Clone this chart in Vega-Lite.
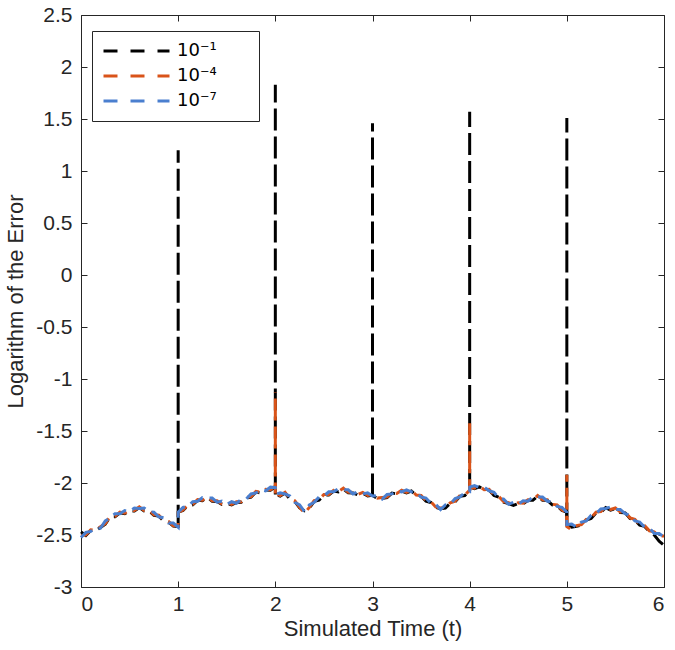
{
"$schema": "https://vega.github.io/schema/vega-lite/v6.json",
"width": 583, "height": 572,
"autosize": {"type": "none"},
"padding": {"left": 81, "top": 15, "right": 11, "bottom": 63},
"background": "white",
"config": {
  "font": "Liberation Sans",
  "view": {"stroke": "#262626", "strokeWidth": 1},
  "axis": {"grid": false, "domain": false, "tickSize": -6, "tickColor": "#262626", "labelFontSize": 21, "labelColor": "#262626", "titleFontSize": 22, "titleFontWeight": "normal", "titleColor": "#262626", "labelFont": "Liberation Sans", "titleFont": "Liberation Sans"},
  "axisX": {"labelPadding": 12},
  "axisY": {"labelPadding": 15}
},
"datasets": {
"k": [{"t":0,"v":-2.47},{"t":0.05,"v":-2.505},{"t":0.1,"v":-2.457},{"t":0.15,"v":-2.46},{"t":0.2,"v":-2.427},{"t":0.25,"v":-2.395},{"t":0.3,"v":-2.327},{"t":0.35,"v":-2.325},{"t":0.4,"v":-2.287},{"t":0.45,"v":-2.295},{"t":0.5,"v":-2.267},{"t":0.55,"v":-2.27},{"t":0.6,"v":-2.237},{"t":0.65,"v":-2.27},{"t":0.7,"v":-2.267},{"t":0.75,"v":-2.31},{"t":0.8,"v":-2.317},{"t":0.85,"v":-2.365},{"t":0.9,"v":-2.377},{"t":0.95,"v":-2.415},{"t":0.999,"v":-2.42},{"t":1.001,"v":-2.28},{"t":1.05,"v":-2.265},{"t":1.1,"v":-2.217},{"t":1.15,"v":-2.21},{"t":1.2,"v":-2.167},{"t":1.25,"v":-2.17},{"t":1.3,"v":-2.137},{"t":1.35,"v":-2.175},{"t":1.4,"v":-2.177},{"t":1.45,"v":-2.205},{"t":1.5,"v":-2.197},{"t":1.55,"v":-2.21},{"t":1.6,"v":-2.187},{"t":1.65,"v":-2.185},{"t":1.7,"v":-2.147},{"t":1.75,"v":-2.135},{"t":1.8,"v":-2.087},{"t":1.85,"v":-2.095},{"t":1.9,"v":-2.067},{"t":1.95,"v":-2.07},{"t":1.999,"v":-2.037},{"t":2.001,"v":-2.11},{"t":2.05,"v":-2.125},{"t":2.1,"v":-2.097},{"t":2.15,"v":-2.155},{"t":2.2,"v":-2.177},{"t":2.25,"v":-2.24},{"t":2.3,"v":-2.267},{"t":2.35,"v":-2.24},{"t":2.4,"v":-2.177},{"t":2.45,"v":-2.165},{"t":2.5,"v":-2.117},{"t":2.55,"v":-2.115},{"t":2.6,"v":-2.077},{"t":2.65,"v":-2.085},{"t":2.7,"v":-2.057},{"t":2.75,"v":-2.095},{"t":2.8,"v":-2.097},{"t":2.85,"v":-2.115},{"t":2.9,"v":-2.097},{"t":2.95,"v":-2.125},{"t":2.999,"v":-2.117},{"t":3.001,"v":-2.12},{"t":3.05,"v":-2.15},{"t":3.1,"v":-2.147},{"t":3.15,"v":-2.14},{"t":3.2,"v":-2.097},{"t":3.25,"v":-2.105},{"t":3.3,"v":-2.077},{"t":3.35,"v":-2.095},{"t":3.4,"v":-2.077},{"t":3.45,"v":-2.12},{"t":3.5,"v":-2.127},{"t":3.55,"v":-2.175},{"t":3.6,"v":-2.187},{"t":3.65,"v":-2.235},{"t":3.7,"v":-2.247},{"t":3.75,"v":-2.24},{"t":3.8,"v":-2.197},{"t":3.85,"v":-2.18},{"t":3.9,"v":-2.127},{"t":3.95,"v":-2.12},{"t":3.999,"v":-2.077},{"t":4.001,"v":-2.04},{"t":4.05,"v":-2.055},{"t":4.1,"v":-2.037},{"t":4.15,"v":-2.07},{"t":4.2,"v":-2.067},{"t":4.25,"v":-2.12},{"t":4.3,"v":-2.137},{"t":4.35,"v":-2.185},{"t":4.4,"v":-2.197},{"t":4.45,"v":-2.215},{"t":4.5,"v":-2.197},{"t":4.55,"v":-2.2},{"t":4.6,"v":-2.167},{"t":4.65,"v":-2.165},{"t":4.7,"v":-2.127},{"t":4.75,"v":-2.165},{"t":4.8,"v":-2.167},{"t":4.85,"v":-2.21},{"t":4.9,"v":-2.217},{"t":4.95,"v":-2.265},{"t":4.999,"v":-2.28},{"t":5.001,"v":-2.4},{"t":5.05,"v":-2.425},{"t":5.1,"v":-2.417},{"t":5.15,"v":-2.405},{"t":5.2,"v":-2.357},{"t":5.25,"v":-2.34},{"t":5.3,"v":-2.287},{"t":5.35,"v":-2.28},{"t":5.4,"v":-2.237},{"t":5.45,"v":-2.26},{"t":5.5,"v":-2.247},{"t":5.55,"v":-2.285},{"t":5.6,"v":-2.287},{"t":5.65,"v":-2.34},{"t":5.7,"v":-2.357},{"t":5.75,"v":-2.405},{"t":5.8,"v":-2.417},{"t":5.85,"v":-2.465},{"t":5.9,"v":-2.5},{"t":5.95,"v":-2.56},{"t":6,"v":-2.6}],
"ks": [{"t":1,"lo":-2.42,"hi":1.2},{"t":2,"lo":-2.11,"hi":1.83},{"t":3,"lo":-2.12,"hi":1.46},{"t":4,"lo":-2.077,"hi":1.57},{"t":5,"lo":-2.4,"hi":1.51}],
"o": [{"t":0,"v":-2.51},{"t":0.05,"v":-2.5},{"t":0.1,"v":-2.45},{"t":0.15,"v":-2.455},{"t":0.2,"v":-2.42},{"t":0.25,"v":-2.39},{"t":0.3,"v":-2.32},{"t":0.35,"v":-2.32},{"t":0.4,"v":-2.28},{"t":0.45,"v":-2.29},{"t":0.5,"v":-2.26},{"t":0.55,"v":-2.265},{"t":0.6,"v":-2.23},{"t":0.65,"v":-2.265},{"t":0.7,"v":-2.26},{"t":0.75,"v":-2.305},{"t":0.8,"v":-2.31},{"t":0.85,"v":-2.36},{"t":0.9,"v":-2.37},{"t":0.95,"v":-2.41},{"t":1,"v":-2.41},{"t":1.001,"v":-2.28},{"t":1.05,"v":-2.26},{"t":1.1,"v":-2.21},{"t":1.15,"v":-2.205},{"t":1.2,"v":-2.16},{"t":1.25,"v":-2.165},{"t":1.3,"v":-2.13},{"t":1.35,"v":-2.17},{"t":1.4,"v":-2.17},{"t":1.45,"v":-2.2},{"t":1.5,"v":-2.19},{"t":1.55,"v":-2.205},{"t":1.6,"v":-2.18},{"t":1.65,"v":-2.18},{"t":1.7,"v":-2.14},{"t":1.75,"v":-2.13},{"t":1.8,"v":-2.08},{"t":1.85,"v":-2.09},{"t":1.9,"v":-2.06},{"t":1.95,"v":-2.065},{"t":1.999,"v":-2.03},{"t":2.001,"v":-2.1},{"t":2.05,"v":-2.12},{"t":2.1,"v":-2.09},{"t":2.15,"v":-2.15},{"t":2.2,"v":-2.17},{"t":2.25,"v":-2.235},{"t":2.3,"v":-2.29},{"t":2.35,"v":-2.235},{"t":2.4,"v":-2.17},{"t":2.45,"v":-2.16},{"t":2.5,"v":-2.11},{"t":2.55,"v":-2.11},{"t":2.6,"v":-2.07},{"t":2.65,"v":-2.08},{"t":2.7,"v":-2.05},{"t":2.75,"v":-2.09},{"t":2.8,"v":-2.09},{"t":2.85,"v":-2.11},{"t":2.9,"v":-2.09},{"t":2.95,"v":-2.12},{"t":3,"v":-2.11},{"t":3.05,"v":-2.145},{"t":3.1,"v":-2.14},{"t":3.15,"v":-2.135},{"t":3.2,"v":-2.09},{"t":3.25,"v":-2.1},{"t":3.3,"v":-2.07},{"t":3.35,"v":-2.09},{"t":3.4,"v":-2.07},{"t":3.45,"v":-2.115},{"t":3.5,"v":-2.12},{"t":3.55,"v":-2.17},{"t":3.6,"v":-2.18},{"t":3.65,"v":-2.23},{"t":3.7,"v":-2.24},{"t":3.75,"v":-2.235},{"t":3.8,"v":-2.19},{"t":3.85,"v":-2.175},{"t":3.9,"v":-2.12},{"t":3.95,"v":-2.115},{"t":3.999,"v":-2.07},{"t":4.001,"v":-2.04},{"t":4.05,"v":-2.05},{"t":4.1,"v":-2.03},{"t":4.15,"v":-2.065},{"t":4.2,"v":-2.06},{"t":4.25,"v":-2.115},{"t":4.3,"v":-2.13},{"t":4.35,"v":-2.18},{"t":4.4,"v":-2.19},{"t":4.45,"v":-2.21},{"t":4.5,"v":-2.19},{"t":4.55,"v":-2.195},{"t":4.6,"v":-2.16},{"t":4.65,"v":-2.16},{"t":4.7,"v":-2.12},{"t":4.75,"v":-2.16},{"t":4.8,"v":-2.16},{"t":4.85,"v":-2.205},{"t":4.9,"v":-2.21},{"t":4.95,"v":-2.26},{"t":4.999,"v":-2.28},{"t":5.001,"v":-2.42},{"t":5.05,"v":-2.45},{"t":5.1,"v":-2.41},{"t":5.15,"v":-2.4},{"t":5.2,"v":-2.35},{"t":5.25,"v":-2.335},{"t":5.3,"v":-2.28},{"t":5.35,"v":-2.275},{"t":5.4,"v":-2.23},{"t":5.45,"v":-2.255},{"t":5.5,"v":-2.24},{"t":5.55,"v":-2.28},{"t":5.6,"v":-2.28},{"t":5.65,"v":-2.335},{"t":5.7,"v":-2.35},{"t":5.75,"v":-2.4},{"t":5.8,"v":-2.41},{"t":5.85,"v":-2.46},{"t":5.9,"v":-2.47},{"t":5.95,"v":-2.51},{"t":6,"v":-2.51}],
"os": [{"t":2,"lo":-2.1,"hi":-1.125},{"t":4,"lo":-2.07,"hi":-1.375},{"t":5,"lo":-2.42,"hi":-1.92}],
"b": [{"t":0,"v":-2.525},{"t":0.05,"v":-2.475},{"t":0.1,"v":-2.465},{"t":0.15,"v":-2.43},{"t":0.2,"v":-2.435},{"t":0.25,"v":-2.365},{"t":0.3,"v":-2.335},{"t":0.35,"v":-2.295},{"t":0.4,"v":-2.295},{"t":0.45,"v":-2.265},{"t":0.5,"v":-2.275},{"t":0.55,"v":-2.24},{"t":0.6,"v":-2.245},{"t":0.65,"v":-2.24},{"t":0.7,"v":-2.275},{"t":0.75,"v":-2.28},{"t":0.8,"v":-2.325},{"t":0.85,"v":-2.335},{"t":0.9,"v":-2.385},{"t":0.95,"v":-2.385},{"t":1,"v":-2.425},{"t":1.001,"v":-2.28},{"t":1.05,"v":-2.235},{"t":1.1,"v":-2.225},{"t":1.15,"v":-2.18},{"t":1.2,"v":-2.175},{"t":1.25,"v":-2.14},{"t":1.3,"v":-2.145},{"t":1.35,"v":-2.145},{"t":1.4,"v":-2.185},{"t":1.45,"v":-2.175},{"t":1.5,"v":-2.205},{"t":1.55,"v":-2.18},{"t":1.6,"v":-2.195},{"t":1.65,"v":-2.155},{"t":1.7,"v":-2.155},{"t":1.75,"v":-2.105},{"t":1.8,"v":-2.095},{"t":1.85,"v":-2.065},{"t":1.9,"v":-2.075},{"t":1.95,"v":-2.04},{"t":2,"v":-2.045},{"t":2.001,"v":-2.11},{"t":2.05,"v":-2.095},{"t":2.1,"v":-2.105},{"t":2.15,"v":-2.125},{"t":2.2,"v":-2.185},{"t":2.25,"v":-2.21},{"t":2.3,"v":-2.275},{"t":2.35,"v":-2.21},{"t":2.4,"v":-2.185},{"t":2.45,"v":-2.135},{"t":2.5,"v":-2.125},{"t":2.55,"v":-2.085},{"t":2.6,"v":-2.085},{"t":2.65,"v":-2.055},{"t":2.7,"v":-2.065},{"t":2.75,"v":-2.065},{"t":2.8,"v":-2.105},{"t":2.85,"v":-2.085},{"t":2.9,"v":-2.105},{"t":2.95,"v":-2.095},{"t":3,"v":-2.125},{"t":3.05,"v":-2.12},{"t":3.1,"v":-2.155},{"t":3.15,"v":-2.11},{"t":3.2,"v":-2.105},{"t":3.25,"v":-2.075},{"t":3.3,"v":-2.085},{"t":3.35,"v":-2.065},{"t":3.4,"v":-2.085},{"t":3.45,"v":-2.09},{"t":3.5,"v":-2.135},{"t":3.55,"v":-2.145},{"t":3.6,"v":-2.195},{"t":3.65,"v":-2.205},{"t":3.7,"v":-2.255},{"t":3.75,"v":-2.21},{"t":3.8,"v":-2.205},{"t":3.85,"v":-2.15},{"t":3.9,"v":-2.135},{"t":3.95,"v":-2.09},{"t":4,"v":-2.085},{"t":4.001,"v":-2.04},{"t":4.05,"v":-2.025},{"t":4.1,"v":-2.045},{"t":4.15,"v":-2.04},{"t":4.2,"v":-2.075},{"t":4.25,"v":-2.09},{"t":4.3,"v":-2.145},{"t":4.35,"v":-2.155},{"t":4.4,"v":-2.205},{"t":4.45,"v":-2.185},{"t":4.5,"v":-2.205},{"t":4.55,"v":-2.17},{"t":4.6,"v":-2.175},{"t":4.65,"v":-2.135},{"t":4.7,"v":-2.135},{"t":4.75,"v":-2.135},{"t":4.8,"v":-2.175},{"t":4.85,"v":-2.18},{"t":4.9,"v":-2.225},{"t":4.95,"v":-2.235},{"t":4.999,"v":-2.28},{"t":5,"v":-2.4},{"t":5.05,"v":-2.395},{"t":5.1,"v":-2.425},{"t":5.15,"v":-2.375},{"t":5.2,"v":-2.365},{"t":5.25,"v":-2.31},{"t":5.3,"v":-2.295},{"t":5.35,"v":-2.25},{"t":5.4,"v":-2.245},{"t":5.45,"v":-2.23},{"t":5.5,"v":-2.255},{"t":5.55,"v":-2.255},{"t":5.6,"v":-2.295},{"t":5.65,"v":-2.31},{"t":5.7,"v":-2.365},{"t":5.75,"v":-2.375},{"t":5.8,"v":-2.425},{"t":5.85,"v":-2.435},{"t":5.9,"v":-2.485},{"t":5.95,"v":-2.485},{"t":6,"v":-2.52}]
},
"layer": [
  {"data": {"name": "k"},
   "mark": {"type": "line", "strokeWidth": 3, "strokeDash": [14, 7]},
   "encoding": {
     "x": {"field": "t", "type": "quantitative", "scale": {"domain": [0, 6], "nice": false, "zero": false},
           "axis": {"values": [0,1,2,3,4,5,6], "title": "Simulated Time (t)", "titlePadding": 4}},
     "y": {"field": "v", "type": "quantitative", "scale": {"domain": [-3, 2.5], "nice": false, "zero": false},
           "axis": {"values": [-3,-2.5,-2,-1.5,-1,-0.5,0,0.5,1,1.5,2,2.5], "labelExpr": "datum.value + ''", "title": "Logarithm of the Error", "titlePadding": 8}},
     "color": {"datum": "10⁻¹", "type": "nominal",
       "scale": {"domain": ["10⁻¹", "10⁻⁴", "10⁻⁷"], "range": ["#000000", "#d95319", "#4a7fcf"]},
       "legend": {"orient": "none", "legendX": 11, "legendY": 16, "title": null, "symbolType": "stroke", "symbolSize": 4356, "clipHeight": 20, "symbolStrokeWidth": 3, "symbolDash": [14, 13], "labelFontSize": 18, "labelFont": "DejaVu Sans", "labelColor": "#000000", "labelOffset": 6, "rowPadding": 5, "padding": 10, "strokeColor": "#262626", "fillColor": "white", "labelExpr": "datum.label + '\u2800\u00a0\u2800'"}}
   }},
  {"data": {"name": "ks"},
   "mark": {"type": "rule", "strokeWidth": 3, "strokeDash": [22, 6]},
   "encoding": {
     "x": {"field": "t", "type": "quantitative", "axis": null},
     "y": {"field": "lo", "type": "quantitative", "axis": null},
     "y2": {"field": "hi"},
     "color": {"datum": "10⁻¹", "type": "nominal"}
   }},
  {"data": {"name": "o"},
   "mark": {"type": "line", "strokeWidth": 3, "strokeDash": [14, 7]},
   "encoding": {
     "x": {"field": "t", "type": "quantitative", "axis": null},
     "y": {"field": "v", "type": "quantitative", "axis": null},
     "color": {"datum": "10⁻⁴", "type": "nominal"}
   }},
  {"data": {"name": "os"},
   "mark": {"type": "rule", "strokeWidth": 3, "strokeDash": [22, 6], "strokeDashOffset": 11},
   "encoding": {
     "x": {"field": "t", "type": "quantitative", "axis": null},
     "y": {"field": "lo", "type": "quantitative", "axis": null},
     "y2": {"field": "hi"},
     "color": {"datum": "10⁻⁴", "type": "nominal"}
   }},
  {"data": {"name": "b"},
   "mark": {"type": "line", "strokeWidth": 3, "strokeDash": [14, 7]},
   "encoding": {
     "x": {"field": "t", "type": "quantitative", "axis": null},
     "y": {"field": "v", "type": "quantitative", "axis": null},
     "color": {"datum": "10⁻⁷", "type": "nominal"}
   }},
  {"data": {"name": "b"},
   "mark": {"type": "line", "opacity": 0},
   "encoding": {
     "x": {"field": "t", "type": "quantitative", "axis": {"orient": "top", "values": [0,1,2,3,4,5,6], "labels": false, "title": null}},
     "y": {"field": "v", "type": "quantitative", "axis": {"orient": "right", "values": [-3,-2.5,-2,-1.5,-1,-0.5,0,0.5,1,1.5,2,2.5], "labels": false, "title": null}}
   }}
],
"resolve": {"axis": {"x": "independent", "y": "independent"}}
}
